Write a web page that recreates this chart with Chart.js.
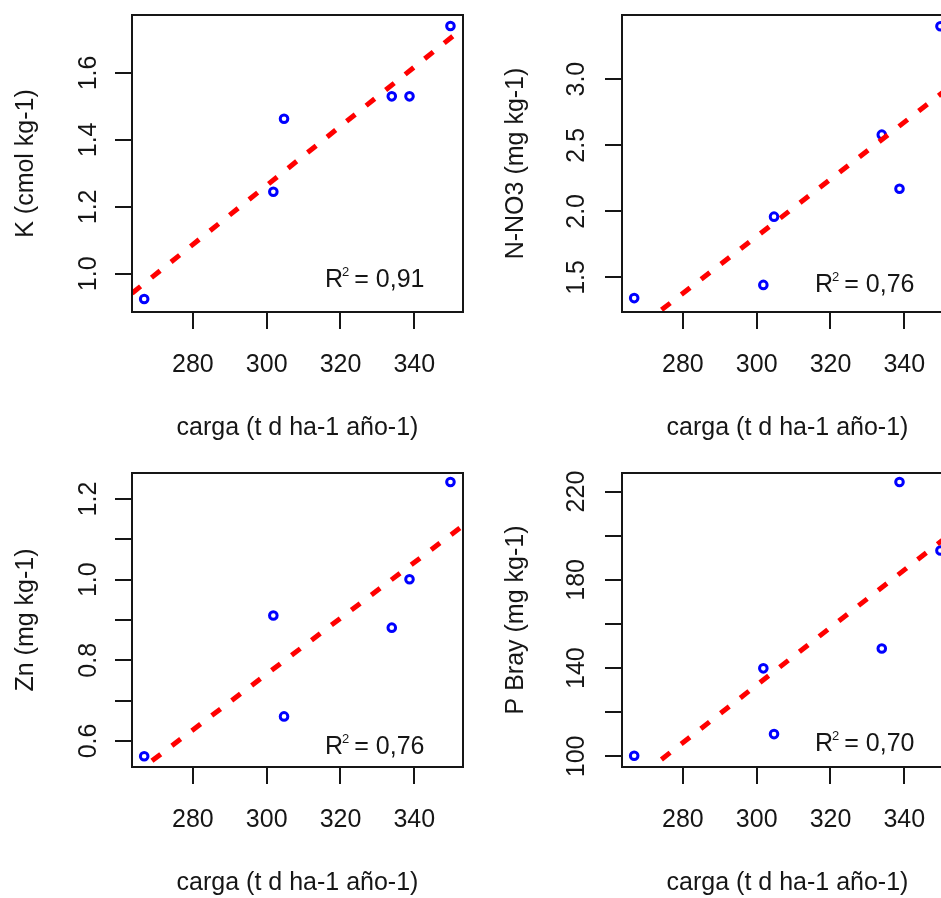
<!DOCTYPE html>
<html>
<head>
<meta charset="utf-8">
<script src="https://cdn.jsdelivr.net/npm/chart.js@4.4.1/dist/chart.umd.min.js"></script>
<style>
  body { margin: 0; background: #fff; }
  #wrap { position: relative; width: 941px; height: 898px; overflow: hidden; background: #fff; }
  #wrap canvas { position: absolute; }
</style>
</head>
<body>
<div id="wrap">
  <canvas id="kChart" width="470" height="450" style="left:0px;top:0px"></canvas>
  <canvas id="no3Chart" width="470" height="450" style="left:490px;top:0px"></canvas>
  <canvas id="znChart" width="470" height="450" style="left:0px;top:458px"></canvas>
  <canvas id="pChart" width="470" height="450" style="left:490px;top:458px"></canvas>
</div>
<script>
// carga (t d ha-1 año-1), same six sites in every panel
var CARGA = [266.8, 301.8, 304.7, 333.9, 338.7, 349.8];
var X_RANGE = [263.5, 353.2];
var X_TICKS = [280, 300, 320, 340];
var X_TITLE = 'carga (t d ha-1 año-1)';

var K_VALUES = [0.925, 1.245, 1.463, 1.53, 1.53, 1.74];
var NO3_VALUES = [1.344, 1.444, 1.96, 2.58, 2.171, 3.40];
var ZN_VALUES = [0.562, 0.911, 0.661, 0.881, 1.001, 1.242];
var PBRAY_VALUES = [100.3, 139.9, 110.1, 148.9, 224.3, 193.3];

// fitted line, value at each end of X_RANGE
var K_FIT = [0.942, 1.734];
var NO3_FIT = [1.024, 2.959];
var ZN_FIT = [0.5135, 1.134];
var PBRAY_FIT = [84.7, 201.7];

var K_TICKS = [1.0, 1.2, 1.4, 1.6];
var K_LABELS = ['1.0', '1.2', '1.4', '1.6'];
var NO3_TICKS = [1.5, 2.0, 2.5, 3.0];
var NO3_LABELS = ['1.5', '2.0', '2.5', '3.0'];
var ZN_TICKS = [0.6, 0.7, 0.8, 0.9, 1.0, 1.1, 1.2];
var ZN_LABELS = ['0.6', '', '0.8', '', '1.0', '', '1.2'];
var PBRAY_TICKS = [100, 120, 140, 160, 180, 200, 220];
var PBRAY_LABELS = ['100', '', '140', '', '180', '', '220'];

var R2_LABELS = ['0,91', '0,76', '0,76', '0,70'];

var INK = '#161616';
var FONT = '"Liberation Sans", Arial, sans-serif';
Chart.defaults.font.family = FONT;
Chart.defaults.font.size = 25;
Chart.defaults.color = INK;

// frame round the plot region + the R^2 note
var boxPlugin = {
  id: 'boxR2',
  afterDatasetsDraw(chart, args, opts) {
    var ctx = chart.ctx, a = chart.chartArea;
    ctx.save();
    ctx.strokeStyle = INK;
    ctx.lineWidth = 2;
    ctx.strokeRect(a.left, a.top, a.right - a.left, a.bottom - a.top);

    var x = a.right - opts.dx, y = a.bottom - opts.dy;
    ctx.fillStyle = INK;
    ctx.textAlign = 'left';
    ctx.textBaseline = 'alphabetic';
    ctx.font = '25px ' + FONT;
    ctx.fillText('R', x, y);
    x += ctx.measureText('R').width - 1;
    ctx.font = '13px ' + FONT;
    ctx.fillText('2', x, y - 11);
    x += ctx.measureText('2').width + 5;
    ctx.font = '25px ' + FONT;
    ctx.fillText('= ' + opts.text, x, y);
    ctx.restore();
  }
};

// keep the plot region where the layout puts it (no extra room for labels)
function noScalePadding(s) {
  s.paddingTop = 0;
  s.paddingBottom = 0;
  s.paddingLeft = 0;
  s.paddingRight = 0;
}

function plotPanel(id, p) {
  var ctx = document.getElementById(id).getContext('2d');
  var points = CARGA.map((c, i) => ({x: c, y: p.values[i]}));
  var fit = [{x: X_RANGE[0], y: p.fit[0]}, {x: X_RANGE[1], y: p.fit[1]}];

  return new Chart(ctx, {
    type: 'scatter',
    data: {
      datasets: [{
        type: 'line',
        data: fit,
        borderColor: '#ff0000',
        borderWidth: 5,
        borderDash: [11, 14],
        pointRadius: 0,
        clip: 0,
        fill: false
      }, {
        data: points,
        pointStyle: 'circle',
        pointRadius: 3.8,
        borderWidth: 3,
        borderColor: '#0000ff',
        backgroundColor: 'rgba(0,0,0,0)'
      }]
    },
    options: {
      responsive: false,
      animation: false,
      devicePixelRatio: 1,
      layout: { padding: { top: 15, right: 7, left: 0, bottom: 0 } },
      plugins: {
        legend: { display: false },
        tooltip: { enabled: false },
        boxR2: { dx: 138, dy: p.r2dy, text: p.r2 }
      },
      scales: {
        x: {
          type: 'linear',
          min: X_RANGE[0],
          max: X_RANGE[1],
          afterBuildTicks: s => { s.ticks = X_TICKS.map(v => ({value: v})); },
          afterFit: s => { s.height = p.xAxisH; noScalePadding(s); },
          ticks: { padding: 21, autoSkip: false, maxRotation: 0, callback: v => String(v) },
          grid: { drawOnChartArea: false, tickLength: 17, color: INK, lineWidth: 2 },
          border: { display: false },
          title: { display: true, text: X_TITLE, padding: { top: 0, bottom: p.titlePad } }
        },
        y: {
          type: 'linear',
          min: p.range[0],
          max: p.range[1],
          afterBuildTicks: s => { s.ticks = p.ticks.map(v => ({value: v})); },
          afterFit: s => { s.width = 132; noScalePadding(s); },
          ticks: {
            padding: p.tickPad,
            minRotation: 90,
            maxRotation: 90,
            crossAlign: 'center',
            autoSkip: false,
            callback: (v, i) => p.labels[i]
          },
          grid: { drawOnChartArea: false, tickLength: 17, color: INK, lineWidth: 2 },
          border: { display: false },
          title: { display: true, text: p.title, padding: { top: 11, bottom: 0 } }
        }
      }
    },
    plugins: [boxPlugin]
  });
}

plotPanel('kChart', {
  values: K_VALUES, fit: K_FIT, ticks: K_TICKS, labels: K_LABELS,
  range: [0.886, 1.773], title: 'K (cmol kg-1)', r2: R2_LABELS[0],
  r2dy: 25, tickPad: 9, xAxisH: 138, titlePad: 7
});
plotPanel('no3Chart', {
  values: NO3_VALUES, fit: NO3_FIT, ticks: NO3_TICKS, labels: NO3_LABELS,
  range: [1.239, 3.485], title: 'N-NO3 (mg kg-1)', r2: R2_LABELS[1],
  r2dy: 20, tickPad: 11, xAxisH: 138, titlePad: 7
});
plotPanel('znChart', {
  values: ZN_VALUES, fit: ZN_FIT, ticks: ZN_TICKS, labels: ZN_LABELS,
  range: [0.5355, 1.2645], title: 'Zn (mg kg-1)', r2: R2_LABELS[2],
  r2dy: 13, tickPad: 9, xAxisH: 141, titlePad: 10
});
plotPanel('pChart', {
  values: PBRAY_VALUES, fit: PBRAY_FIT, ticks: PBRAY_TICKS, labels: PBRAY_LABELS,
  range: [95.2, 228.4], title: 'P Bray (mg kg-1)', r2: R2_LABELS[3],
  r2dy: 16, tickPad: 7, xAxisH: 141, titlePad: 10
});
</script>
</body>
</html>
